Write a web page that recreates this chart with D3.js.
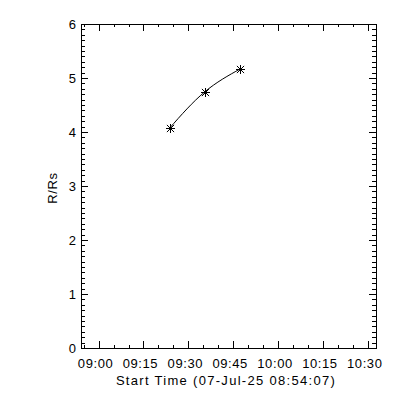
<!DOCTYPE html>
<html>
<head>
<meta charset="utf-8">
<script src="https://cdn.jsdelivr.net/npm/d3@7"></script>
<style>
  body { margin: 0; background: #fff; }
  text { font-family: "Liberation Sans", Arial, sans-serif; fill: #000; }
</style>
</head>
<body>
<div id="chart"></div>
<script>
// Data
const startTime = "2025-07-07T08:54:07"
const endTime = "2025-07-07T10:32:45"
const pointTimes = ["2025-07-07T09:23:43", "2025-07-07T09:35:25", "2025-07-07T09:47:25"]
const pointValues = [4.07, 4.74, 5.17]
const xTickLabels = ["09:00", "09:15", "09:30", "09:45", "10:00", "10:15", "10:30"]
const yTickLabels = ["0", "1", "2", "3", "4", "5", "6"]
const xTitle = "Start Time (07-Jul-25 08:54:07)"
const yTitle = "R/Rs"

function draw() {
  const parseTime = d3.timeParse("%Y-%m-%dT%H:%M:%S")
  const dataset = pointTimes.map((t, i) => ({ time: parseTime(t), value: pointValues[i] }))

  let dimensions = { width: 400, height: 400, left: 81, right: 376, top: 24, bottom: 348 }

  const svg = d3.select('#chart')
    .append('svg')
    .attr('width', dimensions.width)
    .attr('height', dimensions.height)

  const xScale = d3.scaleTime()
    .domain([parseTime(startTime), parseTime(endTime)])
    .range([dimensions.left, dimensions.right])
  const yScale = d3.scaleLinear()
    .domain([0, 6])
    .range([dimensions.bottom, dimensions.top])

  const day = "2025-07-07T"
  const majorX = xTickLabels.map(l => parseTime(day + l + ":00"))
  const minorX = d3.timeMinute.every(5).range(xScale.domain()[0], xScale.domain()[1])
  const majorY = yTickLabels.map(Number)
  const minorY = d3.range(0, 61).map(i => i / 10)

  const axes = svg.append('g').attr('shape-rendering', 'crispEdges')
    .attr('stroke', '#000').attr('stroke-width', 1)

  // frame
  axes.append('rect')
    .attr('x', dimensions.left).attr('y', dimensions.top)
    .attr('width', dimensions.right - dimensions.left)
    .attr('height', dimensions.bottom - dimensions.top)
    .attr('fill', 'none')

  // x ticks bottom & top
  const xTick = (t, len) => {
    const x = Math.round(xScale(t)) + 0.5
    axes.append('line').attr('x1', x).attr('x2', x)
      .attr('y1', dimensions.bottom).attr('y2', dimensions.bottom - len)
    axes.append('line').attr('x1', x).attr('x2', x)
      .attr('y1', dimensions.top).attr('y2', dimensions.top + len)
  }
  minorX.forEach(t => xTick(t, 3))
  majorX.forEach(t => xTick(t, 7))

  // y ticks left & right
  const yTick = (v, len) => {
    const y = Math.round(yScale(v)) + 0.5
    axes.append('line').attr('y1', y).attr('y2', y)
      .attr('x1', dimensions.left).attr('x2', dimensions.left + len)
    axes.append('line').attr('y1', y).attr('y2', y)
      .attr('x1', dimensions.right).attr('x2', dimensions.right - len)
  }
  minorY.forEach(v => yTick(v, 4))
  majorY.forEach(v => yTick(v, 7))

  // tick labels
  svg.append('g').selectAll('text')
    .data(majorX)
    .join('text')
    .attr('x', (d, i) => xScale(d) - 3)
    .attr('y', 368)
    .attr('text-anchor', 'middle')
    .attr('font-size', 13)
    .attr('letter-spacing', 0.6)
    .text((d, i) => xTickLabels[i])

  svg.append('g').selectAll('text')
    .data(majorY)
    .join('text')
    .attr('x', 76)
    .attr('y', d => yScale(d) + 5)
    .attr('text-anchor', 'end')
    .attr('font-size', 13)
    .text((d, i) => yTickLabels[i])

  // titles
  svg.append('text')
    .attr('x', 226).attr('y', 385)
    .attr('text-anchor', 'middle')
    .attr('font-size', 13)
    .attr('letter-spacing', 1.3)
    .text(xTitle)

  svg.append('text')
    .attr('transform', `translate(57, ${(dimensions.top + dimensions.bottom) / 2 + 2}) rotate(-90)`)
    .attr('text-anchor', 'middle')
    .attr('font-size', 13)
    .attr('letter-spacing', 0.6)
    .text(yTitle)

  // curve
  const lineGenerator = d3.line()
    .x(d => xScale(d.time))
    .y(d => yScale(d.value))
    .curve(d3.curveNatural)

  svg.append('path')
    .datum(dataset)
    .attr('d', lineGenerator)
    .attr('fill', 'none')
    .attr('stroke', '#000')
    .attr('stroke-width', 1)

  // asterisk markers
  const r = 4.5
  const star = svg.append('g').attr('stroke', '#000').attr('stroke-width', 1)
  dataset.forEach(d => {
    const cx = Math.round(xScale(d.time)) + 0.5
    const cy = Math.round(yScale(d.value)) + 0.5
    star.append('line').attr('x1', cx - r).attr('x2', cx + r).attr('y1', cy).attr('y2', cy)
    star.append('line').attr('x1', cx).attr('x2', cx).attr('y1', cy - r).attr('y2', cy + r)
    star.append('line').attr('x1', cx - r * 0.8).attr('x2', cx + r * 0.8).attr('y1', cy - r * 0.8).attr('y2', cy + r * 0.8)
    star.append('line').attr('x1', cx - r * 0.8).attr('x2', cx + r * 0.8).attr('y1', cy + r * 0.8).attr('y2', cy - r * 0.8)
  })
}

draw()
</script>
</body>
</html>
